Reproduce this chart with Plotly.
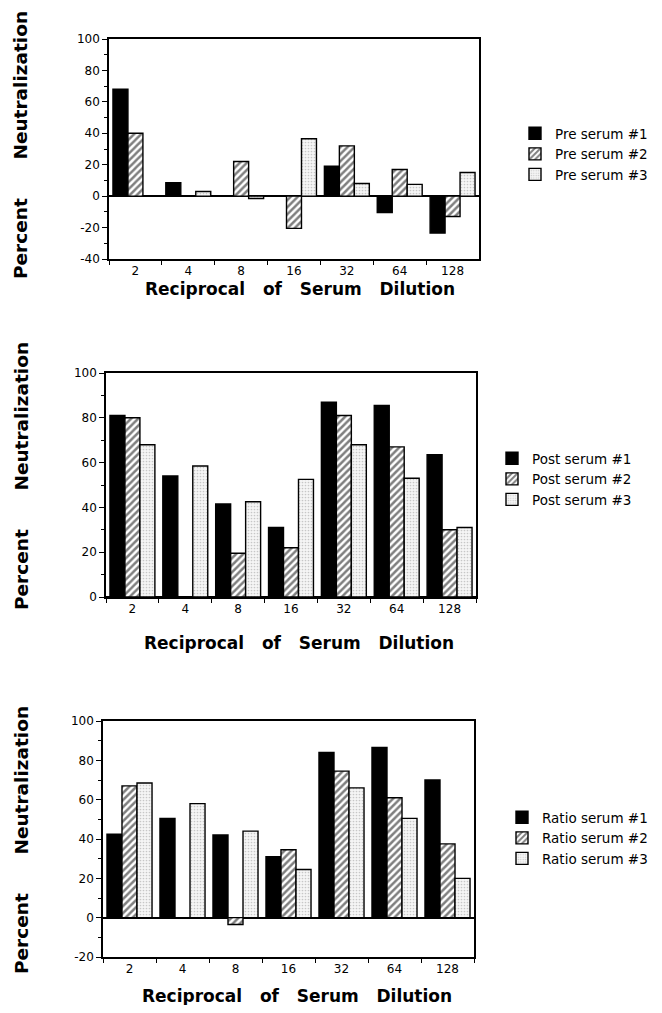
import plotly.graph_objects as go

# ---------------- data ----------------
dilutions = ["2", "4", "8", "16", "32", "64", "128"]

pre_serum1 = [68, 8.5, 0, 0, 19, -10.5, -23.5]
pre_serum2 = [40, 0, 22, -20.5, 32, 17, -13]
pre_serum3 = [0, 3, -1.5, 36.5, 8, 7.5, 15]

post_serum1 = [81, 54, 41.5, 31, 87, 85.5, 63.5]
post_serum2 = [80, 0, 19.5, 22, 81, 67, 30]
post_serum3 = [68, 58.5, 42.5, 52.5, 68, 53, 31]

ratio_serum1 = [42.5, 50.5, 42, 31, 84, 86.5, 70]
ratio_serum2 = [67, 0, -3.5, 34.5, 74.5, 61, 37.5]
ratio_serum3 = [68.5, 58, 44, 24.5, 66, 50.5, 20]

pre_yticks = [-40, -20, 0, 20, 40, 60, 80, 100]
post_yticks = [0, 20, 40, 60, 80, 100]
ratio_yticks = [-20, 0, 20, 40, 60, 80, 100]

panels = [
    ("Pre", [pre_serum1, pre_serum2, pre_serum3], pre_yticks),
    ("Post", [post_serum1, post_serum2, post_serum3], post_yticks),
    ("Ratio", [ratio_serum1, ratio_serum2, ratio_serum3], ratio_yticks),
]

# ---------------- layout geometry (screen pixels) ----------------
OFF = 8                      # page body margin
W, H = 662 - 2 * OFF, 1013 - 2 * OFF
plot_px = [  # left, right, top, bottom
    (109, 479, 39, 259),
    (106, 476, 373, 597),
    (103, 474, 721, 957),
]
legend_px = [(515, 118), (492, 443), (502, 802)]
ytitle_px = [145, 476, 840]
xtitle_px = [(300, 289), (299, 643), (297, 996)]


def fx(px):
    return (px - OFF) / W


def fy(py):
    return 1 - (py - OFF) / H


FONT = "DejaVu Sans"

styles = [
    dict(color="black", line=dict(color="black", width=1.4)),
    dict(color="white", line=dict(color="black", width=1.4),
         pattern=dict(shape="/", fgcolor="black", bgcolor="white", size=5, solidity=0.5)),
    dict(color="white", line=dict(color="black", width=1.4),
         pattern=dict(shape=".", fgcolor="#9a9a9a", bgcolor="#f5f5f5", size=3, solidity=0.25)),
]

fig = go.Figure()
annotations = []
for i, (label, series, yt) in enumerate(panels):
    n = "" if i == 0 else str(i + 1)
    leg = "legend" + n
    for j, vals in enumerate(series):
        fig.add_trace(go.Bar(
            x=dilutions, y=vals, name=f"{label} serum #{j + 1}",
            marker=styles[j], xaxis="x" + n, yaxis="y" + n, legend=leg,
        ))
    l, r, t, b = plot_px[i]
    fig.layout["xaxis" + n] = dict(
        domain=[fx(l), fx(r)], anchor="y" + n, type="category",
        showline=True, linecolor="black", linewidth=1.5, mirror=True,
        ticks="outside", tickson="boundaries", ticklen=4, tickcolor="black",
        showgrid=False, tickfont=dict(family=FONT, size=12, color="black"),
    )
    fig.layout["yaxis" + n] = dict(
        domain=[fy(b), fy(t)], anchor="x" + n, range=[yt[0], yt[-1]],
        tickvals=yt, ticktext=[str(v) for v in yt],
        showline=True, linecolor="black", linewidth=1.5, mirror=True,
        ticks="outside", ticklen=5, tickcolor="black",
        minor=dict(dtick=10, ticks="outside", ticklen=3, tickcolor="black"),
        showgrid=False, zeroline=True, zerolinecolor="black", zerolinewidth=1.5,
        tickfont=dict(family=FONT, size=12, color="black"),
    )
    lx, ly = legend_px[i]
    fig.layout[leg] = dict(
        x=fx(lx), y=fy(ly), xanchor="left", yanchor="top",
        font=dict(family=FONT, size=13.5, color="black"), bgcolor="rgba(0,0,0,0)",
        tracegroupgap=0,
    )
    annotations.append(dict(
        text="<b>Percent\u00a0\u00a0\u00a0\u00a0\u00a0\u00a0Neutralization</b>", textangle=-90,
        xref="paper", yref="paper", x=fx(21), y=fy(ytitle_px[i]),
        xanchor="center", yanchor="middle", showarrow=False,
        font=dict(family=FONT, size=18.5, color="black"),
    ))
    tx, ty = xtitle_px[i]
    annotations.append(dict(
        text="<b>Reciprocal\u00a0\u00a0\u00a0of\u00a0\u00a0\u00a0Serum\u00a0\u00a0\u00a0Dilution</b>",
        xref="paper", yref="paper", x=fx(tx), y=fy(ty),
        xanchor="center", yanchor="middle", showarrow=False,
        font=dict(family=FONT, size=17, color="black"),
    ))

fig.update_layout(
    width=W, height=H, margin=dict(l=0, r=0, t=0, b=0, autoexpand=False),
    paper_bgcolor="white", plot_bgcolor="white",
    barmode="group", bargap=0.15, bargroupgap=0,
    annotations=annotations, font=dict(family=FONT, color="black"),
)

fig.write_html("out.html")
